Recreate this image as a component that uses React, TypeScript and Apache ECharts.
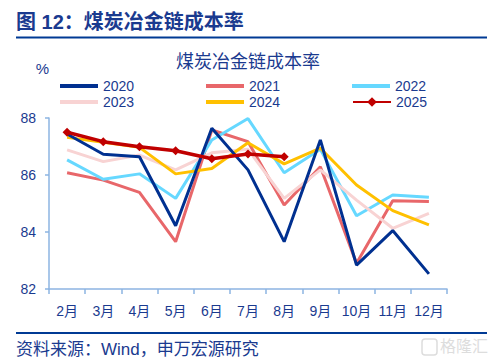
import React, { useEffect, useRef } from "react";
import * as echarts from "echarts";

const months = ["2月", "3月", "4月", "5月", "6月", "7月", "8月", "9月", "10月", "11月", "12月"];
const yearNames = ["2020", "2021", "2022", "2023", "2024", "2025"];
const s2020 = [87.44, 86.73, 86.64, 84.22, 87.64, 86.18, 83.66, 87.23, 82.84, 84.05, 82.53];
const s2021 = [86.08, 85.82, 85.39, 83.66, 87.58, 87.17, 84.95, 86.29, 82.9, 85.1, 85.07];
const s2022 = [86.53, 85.85, 86.04, 85.18, 87.23, 87.98, 86.08, 86.9, 84.57, 85.3, 85.22];
const s2023 = [86.88, 86.47, 86.7, 86.18, 86.78, 86.9, 85.18, 86.18, 85.12, 84.13, 84.65];
const s2024 = [87.32, 87.15, 86.97, 86.04, 86.23, 87.13, 86.39, 86.94, 85.65, 84.75, 84.25];
const s2025 = [87.5, 87.17, 86.99, 86.85, 86.57, 86.74, 86.64];
const colors = ["#003090", "#E8676A", "#66D8FF", "#F8D3D3", "#FFC000", "#C00000"];

const FONT = "'Liberation Sans', 'Noto Sans CJK SC', sans-serif";
const NAVY = "#1A3A8F";

export default function App() {
  const ref = useRef<HTMLDivElement>(null);
  useEffect(() => {
    const chart = echarts.init(ref.current!, null, { renderer: "svg" });
    const data = [s2020, s2021, s2022, s2023, s2024, s2025];
    const series = data.map((d, i) => {
      const is2025 = i === 5;
      return {
        name: yearNames[i],
        type: "line",
        data: d,
        z: is2025 ? 10 : 2 + (i === 0 ? 3 : 0),
        symbol: is2025 ? "diamond" : "none",
        symbolSize: 9,
        showSymbol: is2025,
        lineStyle: { color: colors[i], width: is2025 ? 3.5 : 3 },
        itemStyle: { color: colors[i] },
      };
    });
    const legendPos = [
      { left: 55, top: 74 },
      { left: 201, top: 74 },
      { left: 347, top: 74 },
      { left: 55, top: 90 },
      { left: 201, top: 90 },
      { left: 347, top: 90 },
    ];
    const legends = yearNames.map((n, i) => {
      const is2025 = i === 5;
      return {
        data: [n],
        left: legendPos[i].left,
        top: legendPos[i].top,
        itemWidth: 38,
        itemHeight: is2025 ? 12 : 4,
        icon: is2025 ? undefined : "rect",
        itemGap: 4,
        textStyle: { color: NAVY, fontSize: 14, fontFamily: FONT, padding: [0, 0, 0, 0] },
        selectedMode: false,
      };
    });
    chart.setOption({
      animation: false,
      textStyle: { fontFamily: FONT },
      color: colors,
      legend: legends,
      grid: { left: 49, right: 49, top: 118, bottom: 74, containLabel: false },
      xAxis: {
        type: "category",
        data: months,
        boundaryGap: true,
        axisLine: { lineStyle: { color: "#8DB4E2", width: 1.5 } },
        axisTick: { show: true, length: 5, interval: 0, lineStyle: { color: "#8DB4E2", width: 1.5 } },
        axisLabel: { color: NAVY, fontSize: 14, margin: 15, interval: 0, fontFamily: FONT },
      },
      yAxis: {
        type: "value",
        min: 82,
        max: 88,
        interval: 2,
        name: "%",
        nameLocation: "end",
        nameGap: 0,
        nameTextStyle: { color: NAVY, fontSize: 15, align: "right", padding: [0, 0, 42, 0], fontFamily: FONT },
        splitLine: { show: false },
        axisLine: { show: true, lineStyle: { color: "#8DB4E2", width: 1.5 } },
        axisTick: { show: true, length: 4, lineStyle: { color: "#8DB4E2", width: 1.5 } },
        axisLabel: { color: NAVY, fontSize: 14, margin: 13, fontFamily: FONT },
      },
      series,
      graphic: [
        {
          type: "text",
          left: 16,
          top: 12,
          style: { text: "图 12：煤炭冶金链成本率", fill: "#1A3A8F", fontSize: 20, fontWeight: "bold", fontFamily: FONT },
        },
        {
          type: "rect",
          shape: { x: 16, y: 36.5, width: 471, height: 2 },
          style: { fill: "#003A94" },
        },
        {
          type: "text",
          left: "center",
          top: 53,
          style: { text: "煤炭冶金链成本率", fill: NAVY, fontSize: 18, fontFamily: FONT },
        },
        {
          type: "rect",
          shape: { x: 16, y: 332, width: 471, height: 2 },
          style: { fill: "#003A94" },
        },
        {
          type: "text",
          left: 16,
          top: 341,
          style: { text: "资料来源：Wind，申万宏源研究", fill: NAVY, fontSize: 17, fontFamily: FONT },
        },
        {
          type: "rect",
          shape: { x: 422, y: 339, width: 15, height: 16, r: 3 },
          style: { fill: "none", stroke: "#DDDDDD", lineWidth: 1.5 },
        },
        {
          type: "text",
          left: 440,
          top: 338,
          style: { text: "格隆汇", fill: "#DDDDDD", fontSize: 16, fontFamily: FONT },
        },
      ],
    });
    return () => chart.dispose();
  }, []);
  return <div ref={ref} style={{ width: 496, height: 363, position: "absolute", left: 0, top: 0 }} />;
}
